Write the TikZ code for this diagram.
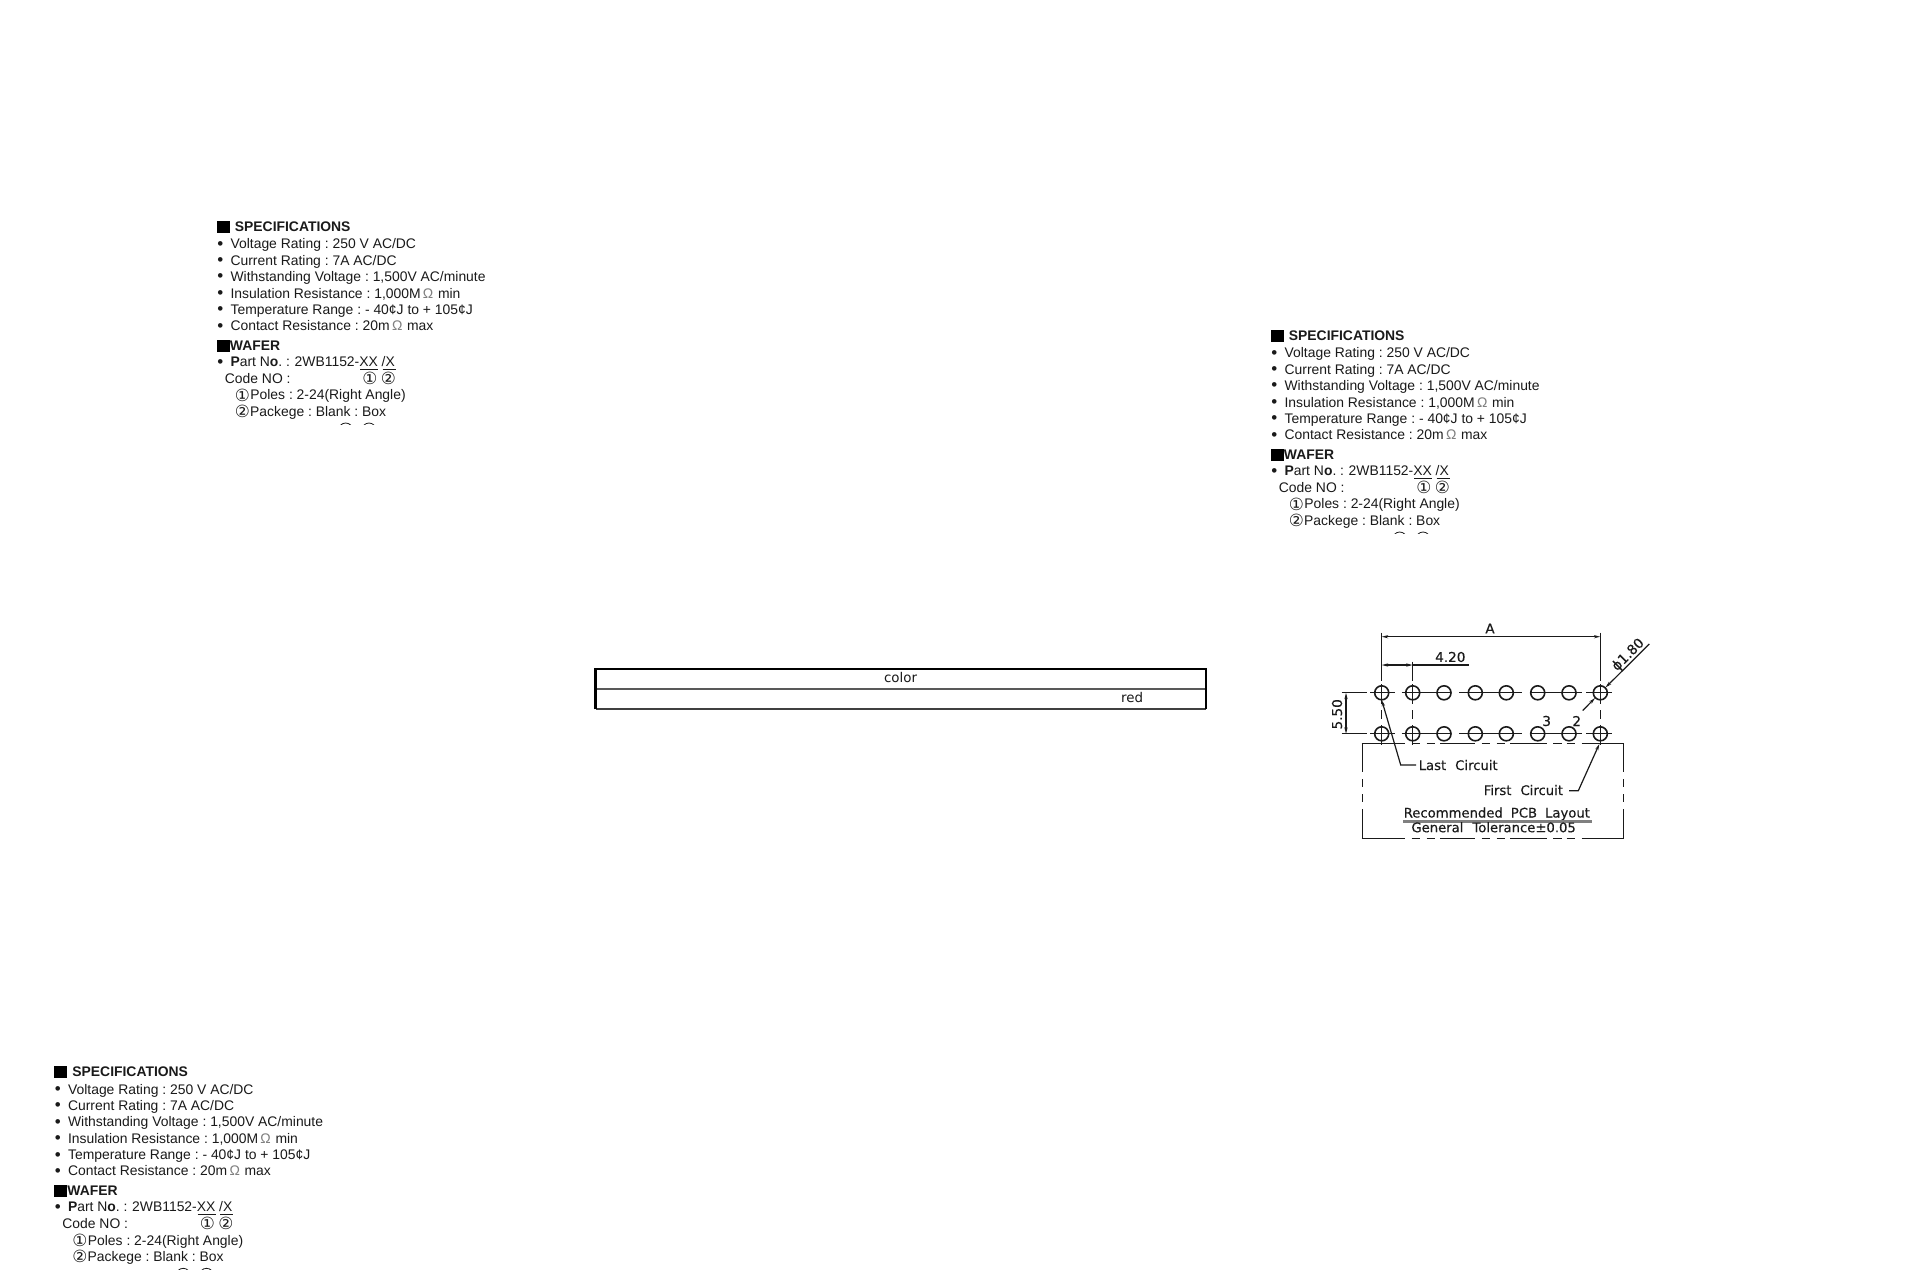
\documentclass[tikz,border=0pt]{standalone}
\usepackage{fontspec}
\setmainfont{Liberation Sans}
\newfontfamily\djfont{DejaVu Sans}
\newfontfamily\cadfont[FakeBold=0.25]{DejaVu Sans}
\usetikzlibrary{arrows.meta}
\definecolor{ink}{HTML}{1A1A1A}
\tikzset{
  x=0.5pt,y=-0.5pt,
  spec/.style={anchor=base west,inner sep=0pt,text=ink,font=\fontsize{6.95}{8}\selectfont},
  specb/.style={spec,font=\fontsize{6.95}{8}\selectfont\bfseries},
  bul/.style={anchor=base west,inner sep=0pt,text=ink,font=\fontsize{8.5}{9}\selectfont},
  circd/.style={anchor=center,inner sep=0pt,text=ink,font=\djfont\fontsize{8.4}{9}\selectfont},
  sq/.style={fill=black,draw=none},
  cad/.style={anchor=base west,inner sep=0pt,text=ink,font=\cadfont\fontsize{6.6}{8}\selectfont},
  cadc/.style={anchor=center,inner sep=0pt,text=ink,font=\cadfont\fontsize{6.8}{8}\selectfont},
  hole/.style={circle,draw=ink,line width=0.8pt,minimum size=7pt,inner sep=0pt},
  thin line/.style={draw=ink,line width=0.6pt},
  dim/.style={thin line,{Stealth[length=3.2pt,width=1.6pt]}-{Stealth[length=3.2pt,width=1.6pt]}},
  lead/.style={thin line,{Stealth[length=3.2pt,width=1.6pt]}-},
  tabline/.style={draw=black,line width=1.1pt},
  tabtext/.style={anchor=center,inner sep=0pt,text=ink,font=\djfont\fontsize{6.7}{8}\selectfont},
}
\newcommand{\specblock}[3]{%
\begin{scope}[shift={(#2,#3)}]
  \fill[sq] (216.5,221) rectangle (229.5,233);
  \node[specb] (#1-spec) at (234.5,231) {SPECIFICATIONS};
  \node[bul] (#1-b1) at (217,249) {•};
  \node[spec] (#1-l1) at (230.2,248.7) {Voltage Rating : 250 V AC/DC};
  \node[bul] (#1-b2) at (217,265.2) {•};
  \node[spec] (#1-l2) at (230.2,265) {Current Rating : 7A AC/DC};
  \node[bul] (#1-b3) at (217,281.7) {•};
  \node[spec] (#1-l3) at (230.2,281.5) {Withstanding Voltage : 1,500V AC/minute};
  \node[bul] (#1-b4) at (217,298.2) {•};
  \node[spec] (#1-l4) at (230.2,298) {Insulation Resistance : 1,000M\,\textcolor{gray}{Ω}\,\,min};
  \node[bul] (#1-b5) at (217,314.7) {•};
  \node[spec] (#1-l5) at (230.2,314.5) {Temperature Range : - 40¢J to + 105¢J};
  \node[bul] (#1-b6) at (217,331) {•};
  \node[spec] (#1-l6) at (230.2,330.5) {Contact Resistance : 20m\,\textcolor{gray}{Ω}\,\,max};
  \fill[sq] (216.5,340) rectangle (229.5,351.7);
  \node[specb] (#1-wafer) at (229.5,350) {WAFER};
  \node[bul] (#1-b7) at (217,367) {•};
  \node[spec] (#1-part) at (230.2,366.5) {\textbf{P}art N\textbf{o}. :};
  \node[spec] (#1-pn) at (294.3,366.5) {2WB1152-XX /X};
  \draw[thin line,line width=0.4pt] (360,369.5) -- (378,369.5);
  \draw[thin line,line width=0.4pt] (382.7,369.5) -- (395.7,369.5);
  \node[spec] (#1-code) at (224.5,383) {Code NO :};
  \node[circd] (#1-c1) at (370,378.5) {①};
  \node[circd] (#1-c2) at (388.3,378.5) {②};
  \node[circd] (#1-c3) at (242.3,395) {①};
  \node[spec] (#1-poles) at (250,399.7) {Poles : 2-24(Right Angle)};
  \node[circd] (#1-c4) at (242.3,411.5) {②};
  \node[spec] (#1-pack) at (249.8,416) {Packege : Blank : Box};
  \begin{scope}
    \clip (330,418) rectangle (380,424);
    \draw[thin line,line width=0.4pt] (345.7,430) circle [radius=7];
    \draw[thin line,line width=0.4pt] (369,430) circle [radius=7];
  \end{scope}
\end{scope}}
\begin{document}
\frenchspacing
\begin{tikzpicture}
\useasboundingbox (0,0) rectangle (1920,1280);
\fill[white] (0,0) rectangle (1920,1280);
\specblock{a}{0}{0}
\specblock{b}{1054}{109}
\specblock{c}{-162.5}{845.3}
% table
\draw[draw=black!75,line width=0.8pt] (595.5,709.2) -- (1206,709.2);
\draw[draw=black!65,line width=0.8pt] (595.5,689) -- (1206,689);
\draw[tabline] (595.5,709.4) -- (595.5,669.2) -- (1206,669.2) -- (1206,709.4);
\node[tabtext] (colorlabel) at (900.5,677.5) {color};
\node[tabtext] (redlabel) at (1132,697) {red};
% holes
\foreach \n/\xx in {1/1381.7,2/1412.7,3/1444,4/1475.3,5/1506.3,6/1537.7,7/1569,8/1600.3}{
  \node[hole] (t\n) at (\xx,692.8) {};
  \node[hole] (u\n) at (\xx,733.8) {};
}
% centre lines
\foreach \yy in {692.8,733.8}{
  \foreach \p/\q in {1341.7/1367.3,1370/1395,1401.7/1451.3,1459/1521.7,1530/1581.7,1586/1611.7}{
    \draw[thin line] (\p,\yy) -- (\q,\yy);
  }
}
\foreach \xx in {1381.7,1412.7,1600.3}{
  \foreach \p/\q in {684/703.5,710/719,725/745}{
    \draw[thin line] (\xx,\p) -- (\xx,\q);
  }
}
% dimension A
\coordinate (a1) at (1381.7,636.7);
\coordinate (a2) at (1600.3,636.7);
\draw[thin line] (1381.7,632.7) -- (1381.7,681);
\draw[thin line] (1600.3,632.7) -- (1600.3,681);
\draw[dim] (a1) -- (a2);
\node[cadc] (labA) at (1490,628.5) {A};
% dimension 4.20
\coordinate (b1) at (1381.7,665);
\coordinate (b2) at (1412.7,665);
\coordinate (b3) at (1469,665);
\draw[thin line] (1412.7,661.7) -- (1412.7,681);
\draw[dim] (b1) -- (b2);
\draw[thin line] (b2) -- (b3);
\node[cadc] (lab420) at (1450.3,657) {4.20};
% dimension 5.50
\coordinate (c1) at (1346,692.8);
\coordinate (c2) at (1346,733.8);
\draw[dim] (c1) -- (c2);
\node[cadc,rotate=90] (lab550) at (1337,714.3) {5.50};
% diameter
\coordinate (d0) at (1649.3,644);
\coordinate (d1) at (1605.5,687.5);
\coordinate (d2) at (1595,698);
\coordinate (d3) at (1582.7,710.5);
\draw[lead,-{Stealth[length=3.2pt,width=1.6pt]}] (d0) -- (d1);
\draw[lead,-{Stealth[length=3.2pt,width=1.6pt]}] (d3) -- (d2);
\node[cadc,rotate=45] (labd) at (1628.3,655) {ϕ1.80};
% circuit numbers
\node[cadc] (lab3) at (1546.7,721) {3};
\node[cadc] (lab2) at (1576.7,721) {2};
% leaders
\coordinate (l1) at (1400.7,765);
\coordinate (l2) at (1416,765);
\draw[lead] (1381.7,700) -- (l1) -- (l2);
\node[cad] (lastc) at (1418.3,770) {Last\hspace{4.5pt}Circuit};
\coordinate (f1) at (1578.3,790.7);
\coordinate (f2) at (1569,790.7);
\draw[lead] (1599.3,744) -- (f1) -- (f2);
\node[cad] (firstc) at (1483.3,795) {First\hspace{4.5pt}Circuit};
% dashed outline
\foreach \yy in {743.3,838.3}{
  \foreach \p/\q in {1361.7/1405,1411.7/1420,1426.7/1435,1440/1475,1481.7/1490,1496.7/1505,1510/1546.7,1553.3/1561.7,1566.7/1575,1581.7/1623.7}{
    \draw[thin line] (\p,\yy) -- (\q,\yy);
  }
}
\foreach \xx in {1362.3,1623.3}{
  \foreach \p/\q in {743.3/772.3,779.3/787.3,794.3/802.3,809.3/838.3}{
    \draw[thin line] (\xx,\p) -- (\xx,\q);
  }
}
% title
\node[cad] (rec) at (1403.3,817.5) {Recommended\hspace{4pt}PCB\hspace{4pt}Layout};
\draw[draw=gray,line width=1.4pt] (1403.3,821.5) -- (1591.7,821.5);
\node[cad] (gen) at (1411,832.2) {General\hspace{4.5pt}Tolerance±0.05};
\end{tikzpicture}
\end{document}
